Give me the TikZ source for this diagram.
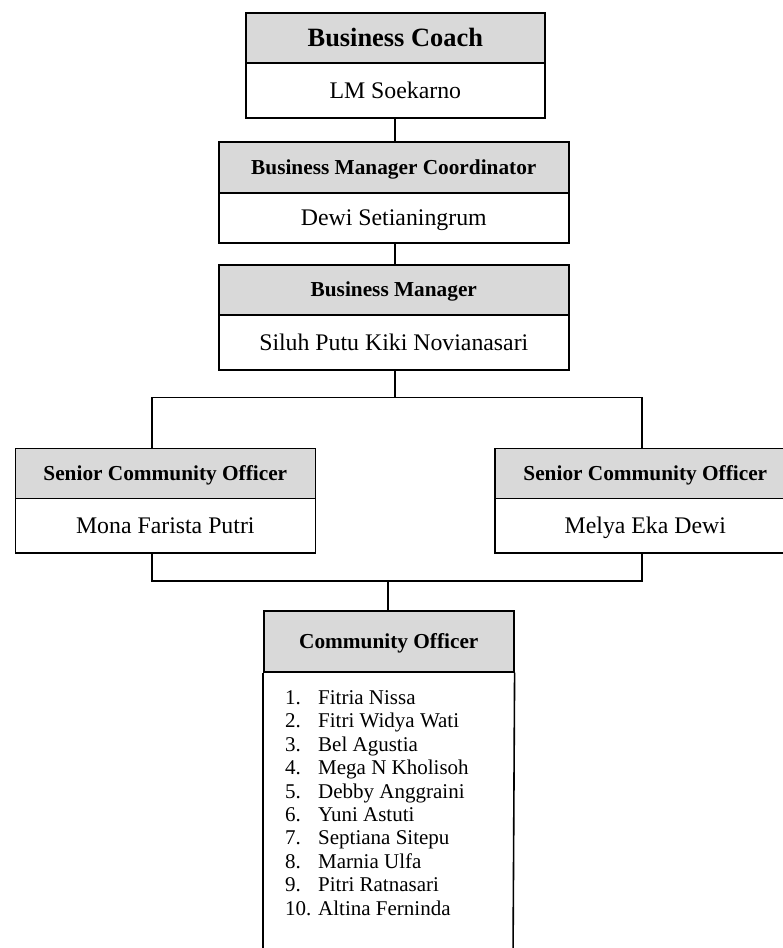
\documentclass[tikz,border=0pt]{standalone}
\usepackage{fontspec}
\setmainfont{Liberation Serif}
\definecolor{hdrgray}{HTML}{D9D9D9}
\tikzset{
  box/.style={draw=black, line width=1.6pt, rectangle, inner sep=0pt, anchor=north west,
              text depth=0pt},
  hdr/.style={box, fill=hdrgray, text height=14.1pt, font=\bfseries\fontsize{21.3}{24}\selectfont},
  bigHdr/.style={box, fill=hdrgray, text height=17.5pt, font=\bfseries\fontsize{26.4}{30}\selectfont},
  bodybox/.style={box, fill=white, text height=15.8pt, font=\fontsize{23.8}{28}\selectfont},
  conn/.style={draw=black, line width=1.6pt},
  listitem/.style={anchor=base west, inner sep=0pt, font=\fontsize{21}{23.4}\selectfont}
}
\begin{document}
\begin{tikzpicture}[x=1pt, y=-1pt]
\useasboundingbox (0,0) rectangle (783,948);
\clip (0,0) rectangle (783,948);

% Business Coach
\node[bigHdr, minimum width=299pt, minimum height=50pt] (bch) at (245,12) {Business Coach};
\node[bodybox, minimum width=299pt, minimum height=55pt] (bcb) at (245,62) {LM Soekarno};

% Business Manager Coordinator
\node[hdr, minimum width=350pt, minimum height=51pt] (bmch) at (218,141) {Business Manager Coordinator};
\node[bodybox, minimum width=350pt, minimum height=50pt] (bmcb) at (218,192) {Dewi Setianingrum};

% Business Manager
\node[hdr, minimum width=350pt, minimum height=50pt] (bmh) at (218,264) {Business Manager};
\node[bodybox, minimum width=350pt, minimum height=55pt] (bmb) at (218,314) {Siluh Putu Kiki Novianasari};

% Senior Community Officers
\node[hdr, minimum width=300pt, minimum height=50pt] (lh) at (14.5,447.5) {Senior Community Officer};
\node[bodybox, minimum width=300pt, minimum height=54.5pt] (lb) at (14.5,497.5) {Mona Farista Putri};
\node[hdr, minimum width=301pt, minimum height=50pt] (rh) at (494,447.5) {Senior Community Officer};
\node[bodybox, minimum width=301pt, minimum height=54.5pt] (rb) at (494,497.5) {Melya Eka Dewi};

% Community Officer
\node[hdr, minimum width=250pt, minimum height=61pt] (coh) at (263,610) {Community Officer};
\coordinate (cobl) at (263,960);
\coordinate (cobr) at (513,960);
\draw[conn] (coh.south west) -- (cobl);
\draw[conn] (coh.south east) -- (cobr);

\foreach \n/\name [count=\i] in {1./Fitria Nissa, 2./Fitri Widya Wati, 3./Bel Agustia,
  4./Mega N Kholisoh, 5./Debby Anggraini, 6./Yuni Astuti, 7./Septiana Sitepu,
  8./Marnia Ulfa, 9./Pitri Ratnasari, 10./Altina Ferninda}{
  \node[listitem] (num\i) at (285, {704.5+23.4*(\i-1)}) {\n};
  \node[listitem] (nm\i) at (318, {704.5+23.4*(\i-1)}) {\name};
}

% connectors
\coordinate (c1) at (395,0);
\draw[conn] (bcb.south -| c1) -- (bmch.north -| c1);
\draw[conn] (bmcb.south -| c1) -- (bmh.north -| c1);

\coordinate (jm) at (395,397.5);
\coordinate (jl) at (152,397.5);
\coordinate (jr) at (642,397.5);
\draw[conn] (bmb.south -| jm) -- (jm);
\draw[conn] (jl |- lh.north) -- (jl) -- (jr) -- (jr |- rh.north);

\coordinate (kl) at (152,581);
\coordinate (kr) at (642,581);
\coordinate (km) at (388,581);
\draw[conn] (kl |- lb.south) -- (kl) -- (kr) -- (kr |- rb.south);
\draw[conn] (km) -- (km |- coh.north);
\end{tikzpicture}
\end{document}
